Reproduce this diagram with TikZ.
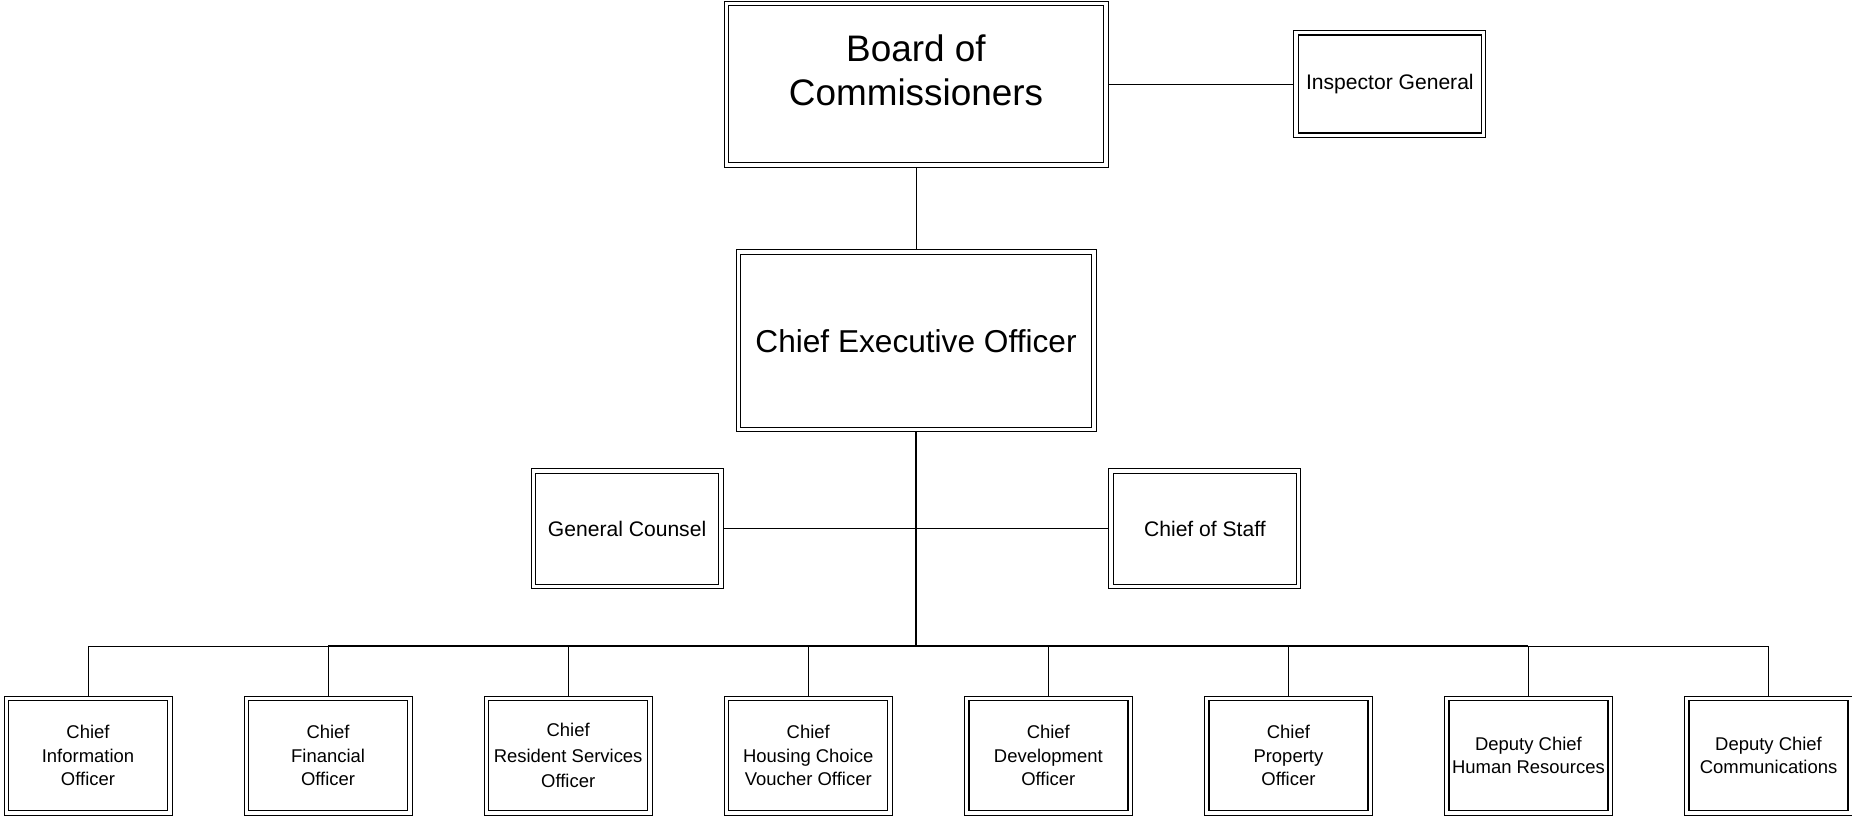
\documentclass[tikz,border=0pt]{standalone}
\usepackage{fontspec}
\setmainfont{Liberation Sans}
\usepackage{tikz}
\usetikzlibrary{positioning}

\begin{document}
\begin{tikzpicture}[
                orgbox/.style={rectangle, draw, line width=0.5pt, align=center, inner sep=1pt,
                    path picture={\draw[line width=0.8pt]
                        ([shift={(0.09,0.09)}]path picture bounding box.south west) rectangle
                        ([shift={(-0.09,-0.09)}]path picture bounding box.north east);}},
                headbox/.style={orgbox, minimum width=7.68cm, minimum height=3.32cm},
                ceobox/.style={orgbox, minimum width=7.2cm, minimum height=3.64cm, font=\fontsize{18}{22}\selectfont},
                staffbox/.style={orgbox, minimum width=3.84cm, minimum height=2.4cm, font=\fontsize{12}{15}\selectfont},
                officerbox/.style={orgbox, minimum width=3.36cm, minimum height=2.38cm, font=\fontsize{10.5}{13.5}\selectfont},
                titletext/.style={align=center, font=\fontsize{21}{25}\selectfont},
                trunk/.style={line width=1.1pt},
            ]
            \useasboundingbox (-18.32,1.68) rectangle (18.72,-14.64);

            % Nodes
            \node[headbox]          (board)                                     {};
            \node[titletext]        (board_title)   at ([yshift=0.28cm]board.center) {Board of\\Commissioners};
            \node[staffbox]         (inspector)     [right=3.7cm of board, minimum height=2.14cm] {Inspector General};

            \node[ceobox]           (ceo)           [below=1.64cm of board]     {Chief Executive Officer};
            \node[staffbox]         (counsel)       [below left=0.72cm and 0.24cm of ceo]  {General Counsel};
            \node[staffbox]         (staff)         [below right=0.72cm and 0.24cm of ceo] {Chief of Staff};
            \coordinate[below=4.28cm of ceo.south] (hub);

            \node[officerbox]       (cio)           at (-16.56,-13.43)          {Chief\\Information\\Officer};
            \node[officerbox]       (cfo)           [right=1.424cm of cio]      {Chief\\Financial\\Officer};
            \node[officerbox]       (crso)          [right=1.424cm of cfo]      {Chief\\[1pt]Resident Services\\[1pt]Officer};
            \node[officerbox]       (chcvo)         [right=1.424cm of crso]     {Chief\\Housing Choice\\Voucher Officer};
            \node[officerbox]       (cdo)           [right=1.424cm of chcvo]    {Chief\\Development\\Officer};
            \node[officerbox]       (cpo)           [right=1.424cm of cdo]      {Chief\\Property\\Officer};
            \node[officerbox]       (dchr)          [right=1.424cm of cpo]      {Deputy Chief\\Human Resources};
            \node[officerbox]       (dcc)           [right=1.424cm of dchr]     {Deputy Chief\\Communications};

            %Lines
            \draw (board.east) -- (inspector.west);
            \draw (board.south) -- (ceo.north);
            \draw (counsel.east) -- (staff.west);
            \draw[trunk] (ceo.south) -- (hub);

            \draw (hub) -| (cio.north);
            \draw (hub) -| (cfo.north);
            \draw (hub) -| (crso.north);
            \draw (hub) -| (chcvo.north);
            \draw (hub) -| (cdo.north);
            \draw (hub) -| (cpo.north);
            \draw (hub) -| (dchr.north);
            \draw (hub) -| (dcc.north);
            \draw[trunk] (hub -| cfo.north) -- (hub -| dchr.north);
        \end{tikzpicture}
\end{document}
